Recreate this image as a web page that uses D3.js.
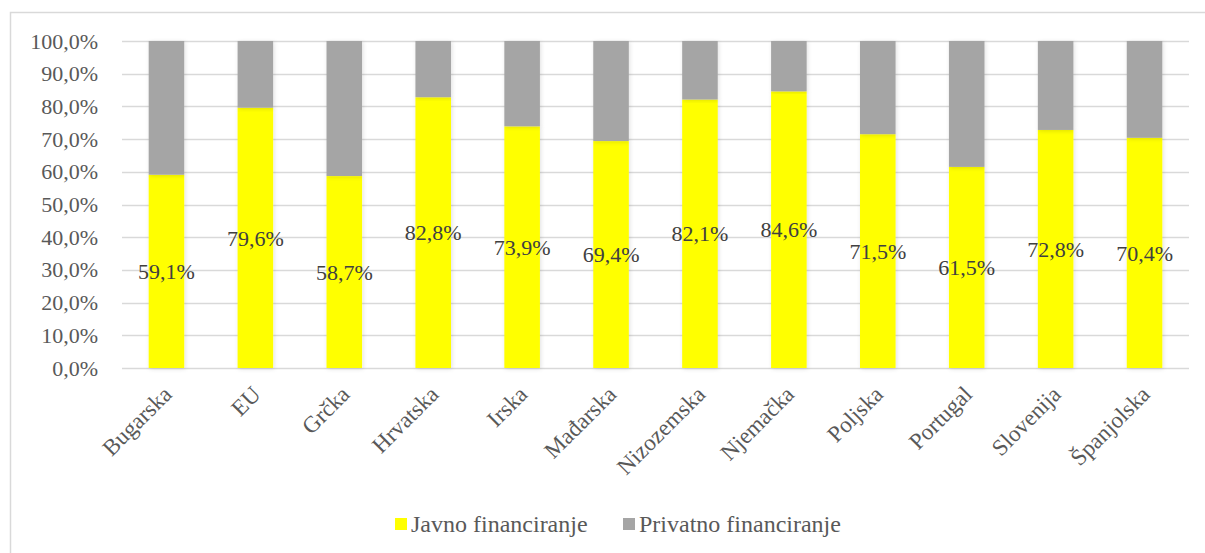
<!DOCTYPE html>
<html>
<head>
<meta charset="utf-8">
<script src="https://cdn.jsdelivr.net/npm/d3@7"></script>
<style>
  body { margin: 0; background: #fff; }
  text { font-family: "Liberation Serif", "Times New Roman", serif; }
</style>
</head>
<body>
<div id="chart"></div>
<script>
// data
var countries = ["Bugarska", "EU", "Grčka", "Hrvatska", "Irska", "Mađarska", "Nizozemska", "Njemačka", "Poljska", "Portugal", "Slovenija", "Španjolska"];
var javno = [59.1, 79.6, 58.7, 82.8, 73.9, 69.4, 82.1, 84.6, 71.5, 61.5, 72.8, 70.4];
var privatno = [40.9, 20.4, 41.3, 17.2, 26.1, 30.6, 17.9, 15.4, 28.5, 38.5, 27.2, 29.6];
var seriesNames = ["Javno financiranje", "Privatno financiranje"];
var yTicks = [0, 10, 20, 30, 40, 50, 60, 70, 80, 90, 100];

var width = 1205, height = 553;
var colors = ["#FFFF00", "#A5A5A5"];

var svg = d3.select("#chart").append("svg")
  .attr("width", width)
  .attr("height", height);

// faint shadow like the excel bars
var defs = svg.append("defs");
defs.append("filter").attr("id", "shadow")
  .attr("x", "-20%").attr("y", "-5%").attr("width", "140%").attr("height", "110%")
  .append("feDropShadow")
  .attr("dx", 1).attr("dy", 1).attr("stdDeviation", 2)
  .attr("flood-color", "#000").attr("flood-opacity", 0.12);

// outer chart border
svg.append("rect")
  .attr("x", 10.5).attr("y", 12.5)
  .attr("width", width).attr("height", height)
  .attr("fill", "none")
  .attr("stroke", "#d9d9d9")
  .attr("stroke-width", 1.5);

var x = d3.scaleBand()
  .domain(countries)
  .range([122, 1189])
  .paddingInner(0.6)
  .paddingOuter(0.3);

var y = d3.scaleLinear()
  .domain([0, 100])
  .range([368, 41]);

var fmt = function(v) { return v.toFixed(1).replace(".", ",") + "%"; };

// gridlines
svg.append("g").selectAll("line")
  .data(yTicks)
  .enter().append("line")
  .attr("x1", 122).attr("x2", 1189)
  .attr("y1", function(d) { return Math.round(y(d)) + 0.5; })
  .attr("y2", function(d) { return Math.round(y(d)) + 0.5; })
  .attr("stroke", "#d9d9d9")
  .attr("stroke-width", 1.5);

// y axis labels
var yAxis = d3.axisLeft(y).tickValues(yTicks).tickFormat(fmt).tickSize(0).tickPadding(24);
var yg = svg.append("g").attr("transform", "translate(122,0)").call(yAxis);
yg.select(".domain").remove();
yg.selectAll("text")
  .attr("fill", "#595959")
  .style("font-size", "22px")
  .style("font-family", "Liberation Serif");

// stacked bars
var rows = countries.map(function(c, i) {
  return { country: c, javno: javno[i], privatno: privatno[i] };
});
var stack = d3.stack().keys(["javno", "privatno"]);
var layers = stack(rows);

svg.append("g").selectAll("g")
  .data(layers)
  .enter().append("g")
  .attr("fill", function(d, i) { return colors[i]; })
  .selectAll("rect")
  .data(function(d) { return d; })
  .enter().append("rect")
  .attr("filter", "url(#shadow)")
  .attr("x", function(d) { return x(d.data.country); })
  .attr("width", x.bandwidth())
  .attr("y", function(d) { return y(Math.min(d[1], 100)); })
  .attr("height", function(d) { return y(d[0]) - y(Math.min(d[1], 100)); });

// data labels for public funding, centred in the segment
svg.append("g").selectAll("text")
  .data(rows)
  .enter().append("text")
  .attr("x", function(d) { return x(d.country) + x.bandwidth() / 2; })
  .attr("y", function(d) { return y(d.javno / 2); })
  .attr("dy", "0.35em")
  .attr("text-anchor", "middle")
  .attr("fill", "#404040")
  .style("font-size", "22px")
  .text(function(d) { return fmt(d.javno); });

// x axis labels, rotated
svg.append("g").selectAll("text")
  .data(countries)
  .enter().append("text")
  .attr("transform", function(d) {
    return "translate(" + (x(d) + x.bandwidth() / 2 + 1) + ",390) rotate(-45)";
  })
  .attr("text-anchor", "end")
  .attr("dy", "0.35em")
  .attr("fill", "#595959")
  .style("font-size", "23px")
  .text(function(d) { return d; });

// legend
var legendX = [395, 623];
var lg = svg.append("g").selectAll("g")
  .data(seriesNames)
  .enter().append("g")
  .attr("transform", function(d, i) { return "translate(" + legendX[i] + ",518)"; });
lg.append("rect")
  .attr("width", 12).attr("height", 12)
  .attr("fill", function(d, i) { return colors[i]; });
lg.append("text")
  .attr("x", 16).attr("y", 6)
  .attr("dy", "0.35em")
  .attr("fill", "#595959")
  .style("font-size", "24px")
  .text(function(d) { return d; });
</script>
</body>
</html>
